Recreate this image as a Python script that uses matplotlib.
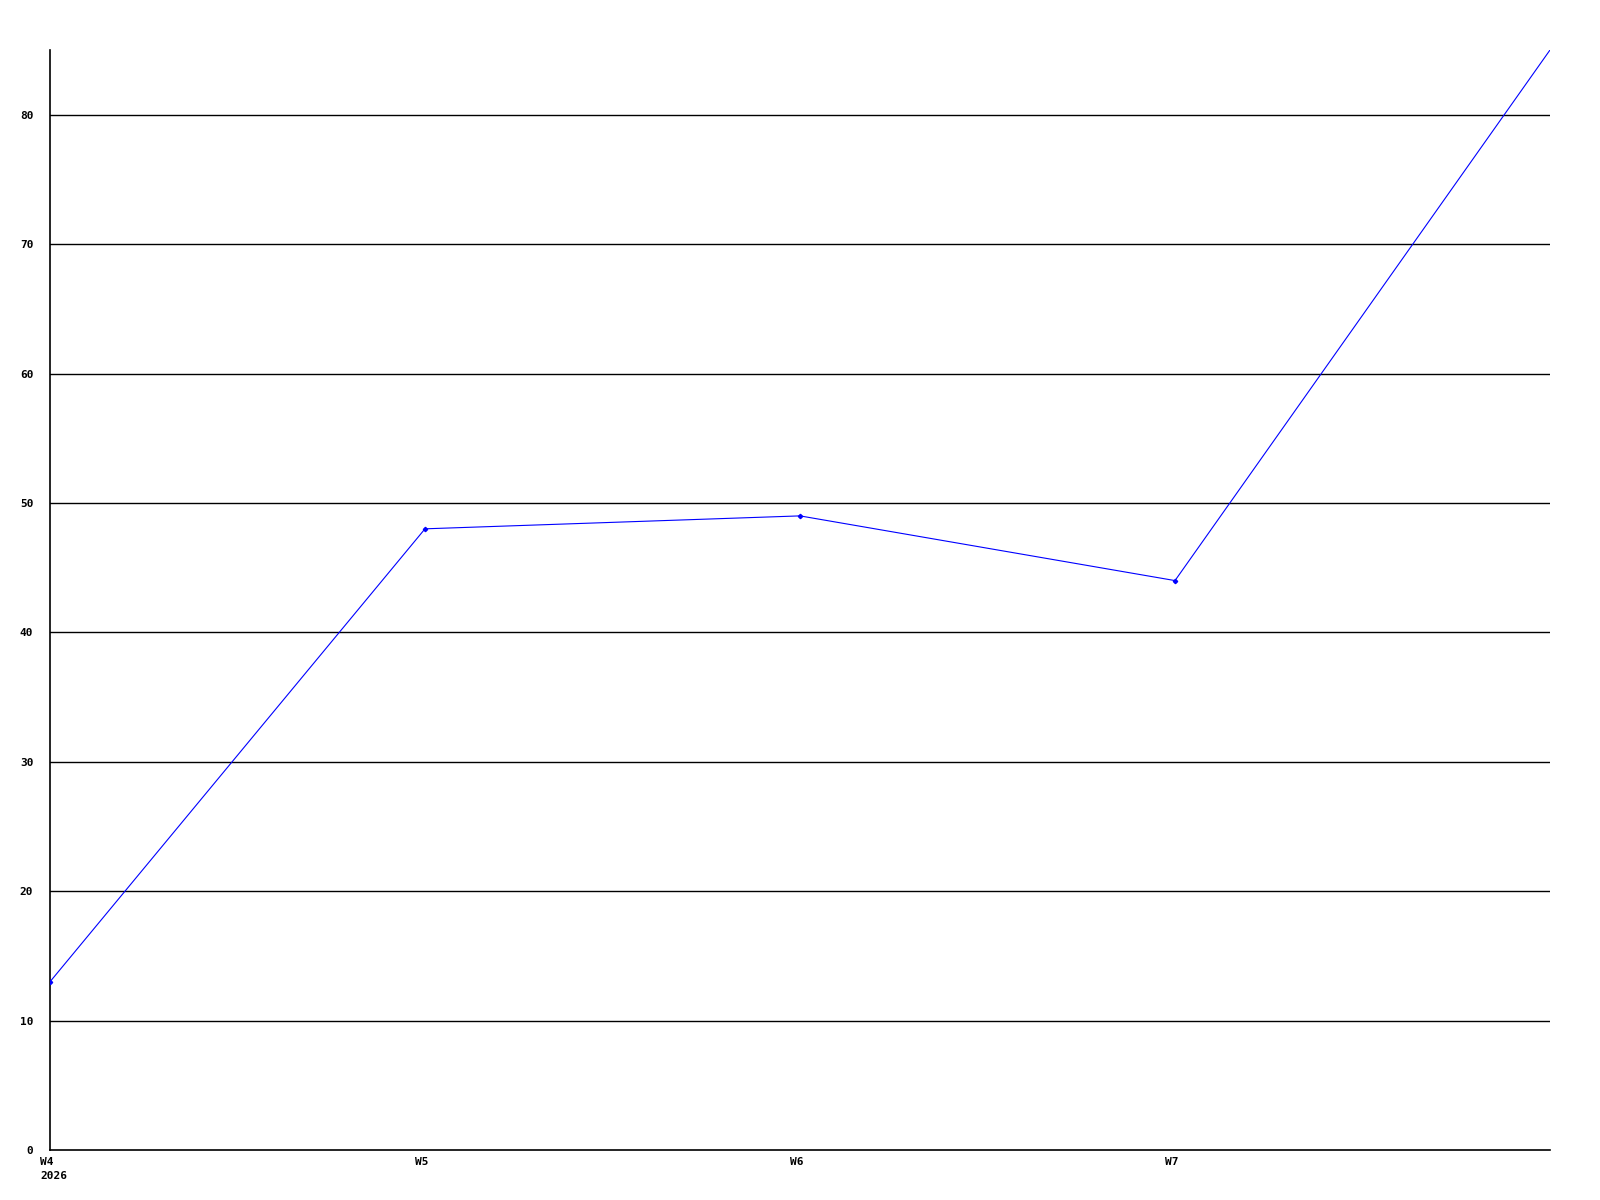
import matplotlib.pyplot as plt
import matplotlib.transforms as mtransforms

# Weekly values
weeks = ['W4\n2026', 'W5', 'W6', 'W7', 'W8']
values = [13, 48, 49, 44, 85]
y_ticks = [0, 10, 20, 30, 40, 50, 60, 70, 80]

fig = plt.figure(figsize=(16, 12), dpi=100)
ax = fig.add_axes([50 / 1600, 1 - 1150 / 1200, 1500 / 1600, 1100 / 1200])

x = list(range(len(weeks)))
ax.plot(x, values, color='#0000ff', linewidth=0.8, marker='D', markersize=2.2,
        markevery=[0, 1, 2, 3], zorder=3)

ax.set_xlim(0, len(weeks) - 1)
ax.set_ylim(0, 85)

# horizontal black grid lines
for yv in y_ticks[1:]:
    ax.axhline(yv, color='black', linewidth=1.0, zorder=1)

ax.spines['top'].set_visible(False)
ax.spines['right'].set_visible(False)
ax.spines['left'].set_linewidth(1.2)
ax.spines['bottom'].set_linewidth(1.2)

font = dict(family='DejaVu Sans Mono', fontweight='bold', fontsize=8)
ax.set_yticks(y_ticks)
ax.set_yticklabels([str(v) for v in y_ticks], **font)
ax.set_xticks(x[:-1])
ax.set_xticklabels(weeks[:-1], ha='left', multialignment='left',
                   linespacing=1.5, **font)
ax.tick_params(axis='both', length=0)
ax.tick_params(axis='y', pad=12)
ax.tick_params(axis='x', pad=5)

# shift x labels a bit left, as in the reference
offset = mtransforms.ScaledTranslation(-10 / 100, 0, fig.dpi_scale_trans)
for lab in ax.get_xticklabels():
    lab.set_transform(lab.get_transform() + offset)

fig.savefig('out.png', dpi=100, facecolor='white')
